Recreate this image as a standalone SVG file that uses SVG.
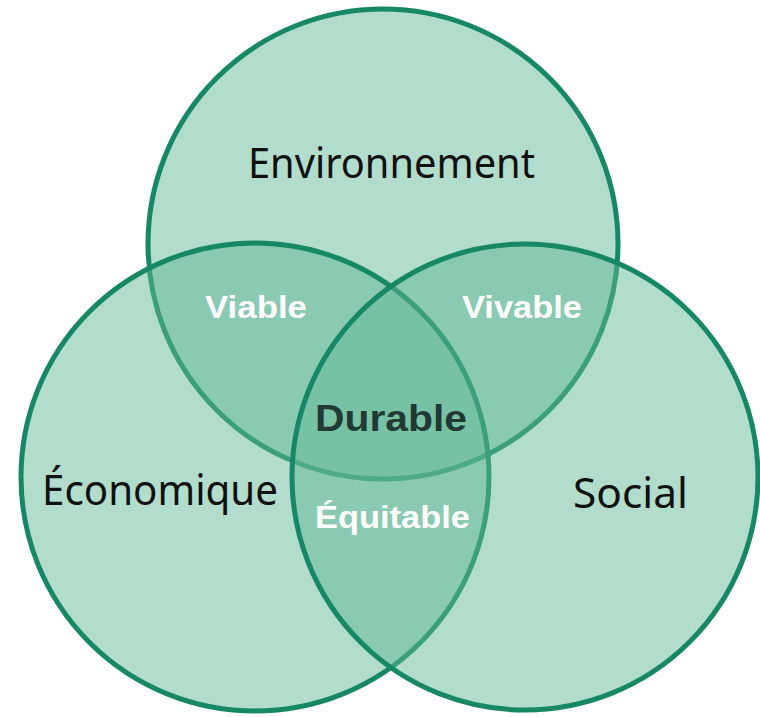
<svg xmlns="http://www.w3.org/2000/svg" width="760" height="717" viewBox="0 0 760 717">
  <style>
    .circle { fill: rgb(98,184,151); fill-opacity: 0.49; stroke: #168866; stroke-width: 5; }
    .label { font-family: "Noto Sans", "Open Sans", sans-serif; font-size: 41px; fill: #111; }
    .inter { font-family: "Liberation Sans", Arial, sans-serif; font-weight: bold; font-size: 32px; fill: #ffffff; }
    .core { font-family: "Liberation Sans", Arial, sans-serif; font-weight: bold; font-size: 37px; fill: #233a34; }
  </style>
  <rect width="760" height="717" fill="#ffffff"/>
  <g id="environnement">
    <circle class="circle" cx="383" cy="244" r="235"/>
  </g>
  <g id="economique">
    <circle class="circle" cx="255" cy="477" r="234"/>
  </g>
  <g id="social">
    <circle class="circle" cx="525" cy="477" r="233"/>
  </g>
  <g id="labels">
    <text class="label" x="248" y="178" textLength="287" lengthAdjust="spacingAndGlyphs">Environnement</text>
    <text class="label" x="42" y="505" textLength="236" lengthAdjust="spacingAndGlyphs">Économique</text>
    <text class="label" x="573" y="508" textLength="115" lengthAdjust="spacingAndGlyphs">Social</text>
  </g>
  <g id="viable">
    <text class="inter" x="205" y="318" textLength="102" lengthAdjust="spacingAndGlyphs">Viable</text>
  </g>
  <g id="vivable">
    <text class="inter" x="462" y="318" textLength="120" lengthAdjust="spacingAndGlyphs">Vivable</text>
  </g>
  <g id="durable">
    <text class="core" x="315" y="431" textLength="152" lengthAdjust="spacingAndGlyphs">Durable</text>
  </g>
  <g id="equitable">
    <text class="inter" x="315" y="528" textLength="155" lengthAdjust="spacingAndGlyphs">Équitable</text>
  </g>
</svg>
